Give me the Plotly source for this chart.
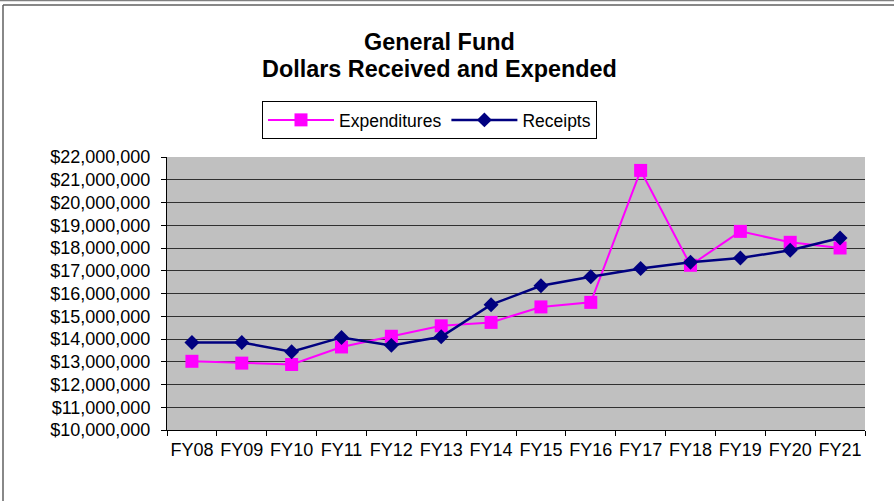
import plotly.graph_objects as go

categories = ["FY08", "FY09", "FY10", "FY11", "FY12", "FY13", "FY14",
              "FY15", "FY16", "FY17", "FY18", "FY19", "FY20", "FY21"]
expenditures = [13020000, 12940000, 12880000, 13650000, 14120000, 14580000, 14730000,
                15410000, 15610000, 21410000, 17240000, 18730000, 18250000, 18000000]
receipts = [13850000, 13850000, 13440000, 14070000, 13720000, 14100000, 15510000,
            16340000, 16740000, 17100000, 17370000, 17560000, 17900000, 18440000]
y_ticks = list(range(10000000, 22000001, 1000000))
y_tick_labels = ["${:,}".format(v) for v in y_ticks]

FONT = "Liberation Sans, Arial, sans-serif"
W, H = 894, 501
L, R, T, B = 167, 29, 157, 71
PW, PH = W - L - R, H - T - B


def px_x(p):
    return (p - L) / PW


def px_y(p):
    return (H - B - p) / PH


fig = go.Figure()
fig.add_trace(go.Scatter(
    x=categories, y=expenditures, name="Expenditures", mode="lines+markers",
    line=dict(color="#FF00FF", width=2),
    marker=dict(symbol="square", size=13, color="#FF00FF"),
))
fig.add_trace(go.Scatter(
    x=categories, y=receipts, name="Receipts", mode="lines+markers",
    line=dict(color="#000080", width=2.5),
    marker=dict(symbol="diamond", size=11.5, color="#000080"),
))

fig.update_layout(
    width=W, height=H,
    margin=dict(l=L, r=R, t=T, b=B, pad=0),
    paper_bgcolor="white",
    plot_bgcolor="#C0C0C0",
    font=dict(family=FONT, size=18, color="black"),
    showlegend=True,
    legend=dict(
        orientation="h", x=px_x(262), y=px_y(101), xanchor="left", yanchor="top",
        bordercolor="black", borderwidth=1, bgcolor="white",
        font=dict(family=FONT, size=17.5, color="black"),
        itemwidth=66,
    ),
    xaxis=dict(
        type="category", showgrid=False, showline=True, linecolor="black", linewidth=1,
        ticks="outside", ticklen=5, tickcolor="black", tickson="boundaries",
        tickangle=0, ticklabelstandoff=3,
        tickfont=dict(family=FONT, size=18), range=[-0.5, 13.5], fixedrange=True,
    ),
    yaxis=dict(
        range=[10000000, 22000000], tickvals=y_ticks, ticktext=y_tick_labels,
        showgrid=True, gridcolor="#303030", gridwidth=1,
        showline=True, linecolor="black", linewidth=1,
        ticks="outside", ticklen=5, tickcolor="black", ticklabelstandoff=7,
        tickfont=dict(family=FONT, size=18), zeroline=False, fixedrange=True,
    ),
    annotations=[
        dict(text="<b>General Fund</b>", xref="paper", yref="paper",
             x=px_x(439), y=px_y(42), xanchor="center", yanchor="middle",
             showarrow=False, font=dict(family=FONT, size=23.4, color="black")),
        dict(text="<b>Dollars Received and Expended</b>", xref="paper", yref="paper",
             x=px_x(439), y=px_y(69), xanchor="center", yanchor="middle",
             showarrow=False, font=dict(family=FONT, size=23.4, color="black")),
    ],
    shapes=[
        dict(type="line", xref="paper", yref="paper", x0=px_x(3), x1=px_x(900),
             y0=px_y(5), y1=px_y(5), line=dict(color="#606060", width=1.5)),
        dict(type="line", xref="paper", yref="paper", x0=px_x(0), x1=px_x(900),
             y0=px_y(0.5), y1=px_y(0.5), line=dict(color="#808080", width=1.5)),
        dict(type="line", xref="paper", yref="paper", x0=px_x(3), x1=px_x(3),
             y0=px_y(5), y1=px_y(510), line=dict(color="#606060", width=1.5)),
    ],
)

fig.write_html("out.html", config={"displayModeBar": False})
